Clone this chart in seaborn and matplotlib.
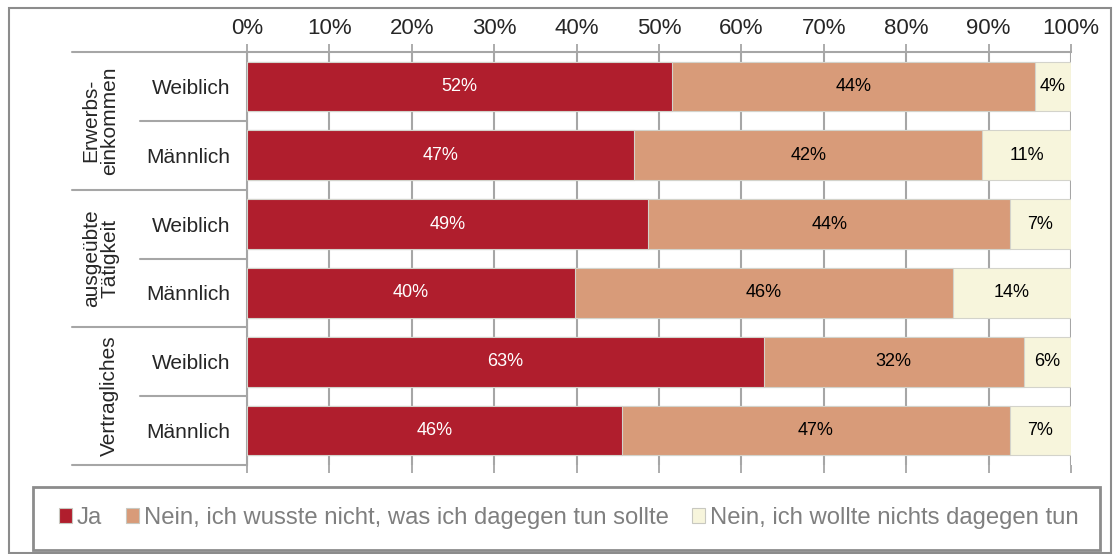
import numpy as np
import pandas as pd
import matplotlib
matplotlib.use("Agg")
import matplotlib.pyplot as plt
import matplotlib.transforms as mtransforms
from matplotlib.patches import Rectangle
import seaborn as sns

# data (percent)
groups = ["Erwerbs-\neinkommen", "ausgeübte\nTätigkeit", "Vertragliches"]
genders = ["Weiblich", "Männlich"]
answers = ["Ja", "Nein, ich wusste nicht, was ich dagegen tun sollte",
           "Nein, ich wollte nichts dagegen tun"]
ja = [51.6, 47.0, 48.7, 39.8, 62.7, 45.5]
nein_wusste = [44.0, 42.2, 43.9, 45.9, 31.6, 47.1]
nein_wollte = [4.4, 10.8, 7.4, 14.3, 5.7, 7.4]
colors = ["#B01E2D", "#D89B79", "#F7F5DC"]

rows = [f"{g}|{s}" for g in groups for s in genders]
df = pd.DataFrame({"row": rows, "Ja": ja, "Wusste": nein_wusste, "Wollte": nein_wollte})
df["c1"] = df["Ja"]
df["c2"] = df["c1"] + df["Wusste"]
df["c3"] = df["c2"] + df["Wollte"]

sns.set_style("white")
plt.rcParams["font.family"] = ["Liberation Sans", "DejaVu Sans"]

W, H = 1113, 554
fig = plt.figure(figsize=(W / 100, H / 100), dpi=100)
ax = fig.add_axes([247 / W, 1 - 465 / H, (1071 - 247) / W, (465 - 52) / H])

# stacked bars: draw cumulative totals, largest first
for col, c in zip(["c3", "c2", "c1"], colors[::-1]):
    sns.barplot(data=df, x=col, y="row", orient="h", color=c, saturation=1,
                width=0.72, edgecolor="#D3D3CB", linewidth=0.8, ax=ax, zorder=3)

# segment labels
for i, r in df.iterrows():
    starts = [0, r["c1"], r["c2"]]
    vals = [r["Ja"], r["Wusste"], r["Wollte"]]
    for k, (s0, v) in enumerate(zip(starts, vals)):
        ax.text(s0 + v / 2, i, f"{round(v):d}%", ha="center", va="center",
                fontsize=13, color="white" if k == 0 else "black", zorder=5)

ax.set_xlim(0, 100)
ax.set_ylim(5.5, -0.5)
ax.set_xticks(np.arange(0, 101, 10))
ax.set_xticklabels([f"{v}%" for v in range(0, 101, 10)])
ax.xaxis.grid(True, color="#A6A6A6", linewidth=1.5, zorder=0)
ax.set_axisbelow(True)
ax.tick_params(axis="x", top=True, bottom=True, labeltop=True, labelbottom=False,
               direction="out", length=6, width=1.3, color="#A6A6A6", labelsize=16, pad=3)
ax.set_yticks(range(len(rows)))
ax.set_yticklabels([r.split("|")[1] for r in rows])
ax.tick_params(axis="y", length=0, labelsize=15, pad=12)
ax.set_xlabel("")
ax.set_ylabel("")
for sp in ["right", "bottom"]:
    ax.spines[sp].set_visible(False)
for sp in ["left", "top"]:
    ax.spines[sp].set_color("#A6A6A6")
    ax.spines[sp].set_linewidth(1.5)

# row header separators and group labels
trans = mtransforms.blended_transform_factory(ax.transAxes, ax.transData)
for yb in [-0.5, 1.5, 3.5, 5.5]:
    ax.plot([(72 - 247) / 824, 0], [yb, yb], color="#A6A6A6", lw=1.5,
            transform=trans, clip_on=False)
for yb in [0.5, 2.5, 4.5]:
    ax.plot([(140 - 247) / 824, 0], [yb, yb], color="#A6A6A6", lw=1.5,
            transform=trans, clip_on=False)
for gi, g in enumerate(groups):
    ax.text((119 - 247) / 824, gi * 2 + 0.5, g, rotation=90, ha="right", va="center",
            multialignment="center", fontsize=15, linespacing=0.95,
            transform=trans)

# outer frame and legend box
fig.patches.append(Rectangle((9 / W, 1 / H), 1102 / W, 545 / H, transform=fig.transFigure,
                             fill=False, edgecolor="#8C8C8C", lw=1.5))
fig.patches.append(Rectangle((33 / W, 4 / H), 1067 / W, 63 / H, transform=fig.transFigure,
                             fill=False, edgecolor="#8C8C8C", lw=2))

handles = [Rectangle((0, 0), 1, 1, facecolor=c, edgecolor="#C8C8C0", lw=0.8) for c in colors]
leg = fig.legend(handles, answers, loc="center", bbox_to_anchor=(569 / W, 1 - 518 / H),
                 ncol=3, frameon=False, fontsize=17.2, handlelength=0.54, handleheight=0.54,
                 handletextpad=0.2, columnspacing=1.0)
for t in leg.get_texts():
    t.set_color("#7F7F7F")

fig.savefig("out.png", dpi=100)
